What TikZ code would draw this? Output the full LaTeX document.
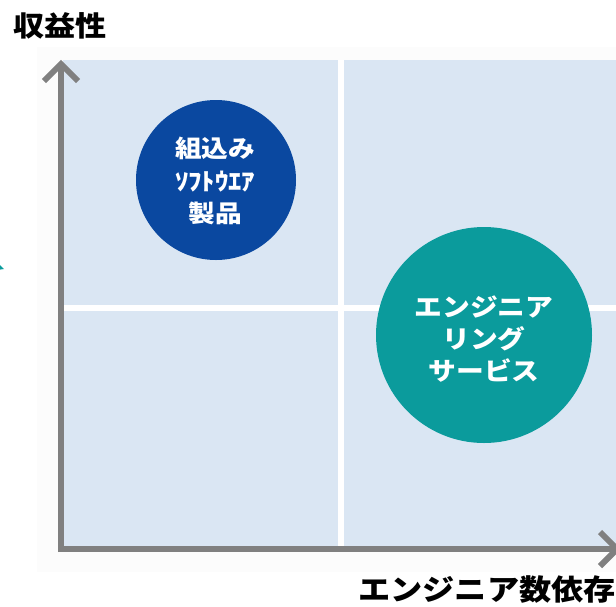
\documentclass[tikz,border=0pt]{standalone}
\usepackage{fontspec}
\newfontfamily\jp{Noto Sans CJK JP}[FakeStretch=1.11]
\definecolor{axisgray}{HTML}{808080}
\definecolor{quad}{HTML}{DAE6F3}
\definecolor{darkblue}{HTML}{0A48A0}
\definecolor{teal}{HTML}{0B9B9C}
\tikzset{
  axis/.style={draw=axisgray, line width=6pt},
  chevron/.style={draw=axisgray, line width=6pt, line cap=butt, line join=miter},
  divider/.style={draw=white, line width=5.5pt},
  bubble/.style={circle, inner sep=0pt, text=white, align=center},
  title/.style={font=\jp\bfseries\fontsize{28}{30}\selectfont, text=black, inner sep=0pt},
}
\begin{document}
\begin{tikzpicture}[x=1pt,y=-1pt]
\useasboundingbox (0,0) rectangle (616,606);
\clip (0,0) rectangle (616,606);
% faint backdrop
\fill[black!1.2] (37,47) rectangle (616,572);
% quadrant background
\fill[quad] (63,60) rectangle (616,547);
% dividers
\coordinate (vtop) at (341,60);
\coordinate (vbot) at (341,547);
\coordinate (hl) at (64,308);
\coordinate (hr) at (616,308);
\draw[divider] (vtop) -- (vbot);
\draw[divider] (hl) -- (hr);
% axes
\coordinate (origin) at (61,549);
\coordinate (ytip) at (61,64);
\coordinate (xtip) at (614,549);
\draw[axis] (61,552) -- (ytip);
\draw[axis] (58,549) -- (xtip);
\draw[chevron] (44,81) -- (61,64) -- (78,81);
\draw[chevron] (600,532) -- (617,549) -- (600,566);
% left edge teal mark
\fill[teal] (-3,262) -- (4,269) -- (-3,270) -- cycle;
% bubbles
\node[bubble, fill=darkblue, minimum size=160pt] (emb) at (216,180) {};
\node[text=white, align=center, font=\jp\bfseries\fontsize{24}{32.5}\selectfont, inner sep=0pt] (embt) at (215,181) {組込み\\ｿﾌﾄｳｴｱ\\製品};
\node[bubble, fill=teal, minimum size=216pt] (eng) at (484,335) {};
\node[text=white, align=center, font=\jp\bfseries\fontsize{25}{32}\selectfont, inner sep=0pt] (engt) at (484,339) {エンジニア\\リング\\サービス};
% axis labels
\node[title] (ylab) at (60,26) {収益性};
\node[title, font=\jp\bfseries\fontsize{29}{30}\selectfont] (xlab) at (487,590) {エンジニア数依存};
\end{tikzpicture}
\end{document}
